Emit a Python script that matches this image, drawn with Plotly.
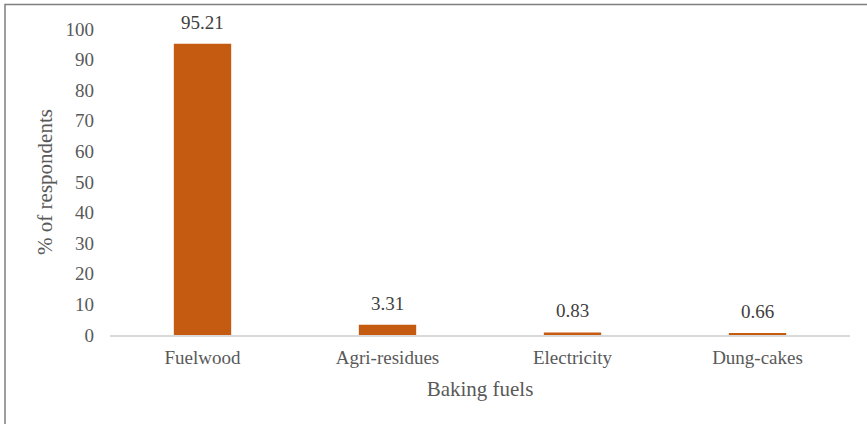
import plotly.graph_objects as go

# Share of respondents by baking fuel
fuels = ["Fuelwood", "Agri-residues", "Electricity", "Dung-cakes"]
percent = [95.21, 3.31, 0.83, 0.66]
y_ticks = [0, 10, 20, 30, 40, 50, 60, 70, 80, 90, 100]

W, H = 867, 424
L, R, T, B = 110, 17, 29, 89

fig = go.Figure(
    go.Bar(
        x=fuels,
        y=percent,
        marker=dict(color="#C55A11", line=dict(width=0)),
        width=0.31,
        cliponaxis=False,
    )
)

# value labels placed just above each bar
for f, v in zip(fuels, percent):
    fig.add_annotation(
        x=f,
        y=v,
        text=f"{v:.2f}",
        showarrow=False,
        yanchor="bottom",
        yshift=9,
        font=dict(family="Liberation Serif", size=19, color="#404040"),
    )

pw, ph = W - L - R, H - T - B


def px_x(p):
    return (p - L) / pw


def px_y(p):
    return (H - B - p) / ph


fig.update_layout(
    width=W,
    height=H,
    margin=dict(l=L, r=R, t=T, b=B),
    paper_bgcolor="white",
    plot_bgcolor="white",
    showlegend=False,
    font=dict(family="Liberation Serif", size=19, color="#595959"),
    xaxis=dict(
        showgrid=False,
        showline=True,
        linecolor="#D9D9D9",
        linewidth=1.5,
        ticks="",
        ticklabelstandoff=4,
        tickfont=dict(size=19, color="#595959"),
        title=dict(text="Baking fuels", font=dict(size=21, color="#595959"), standoff=15),
    ),
    yaxis=dict(
        range=[0, 100],
        tickvals=y_ticks,
        showgrid=False,
        zeroline=False,
        showline=False,
        ticks="",
        ticklabelstandoff=15,
        tickfont=dict(size=19, color="#595959"),
        title=dict(text="% of respondents", font=dict(size=21, color="#595959"), standoff=7),
    ),
    shapes=[
        dict(
            type="rect",
            xref="paper",
            yref="paper",
            x0=px_x(5),
            x1=px_x(875),
            y0=px_y(430),
            y1=px_y(4.5),
            line=dict(color="#7F7F7F", width=1.5),
            fillcolor="rgba(0,0,0,0)",
            layer="below",
        )
    ],
)

fig.write_html("out.html")
